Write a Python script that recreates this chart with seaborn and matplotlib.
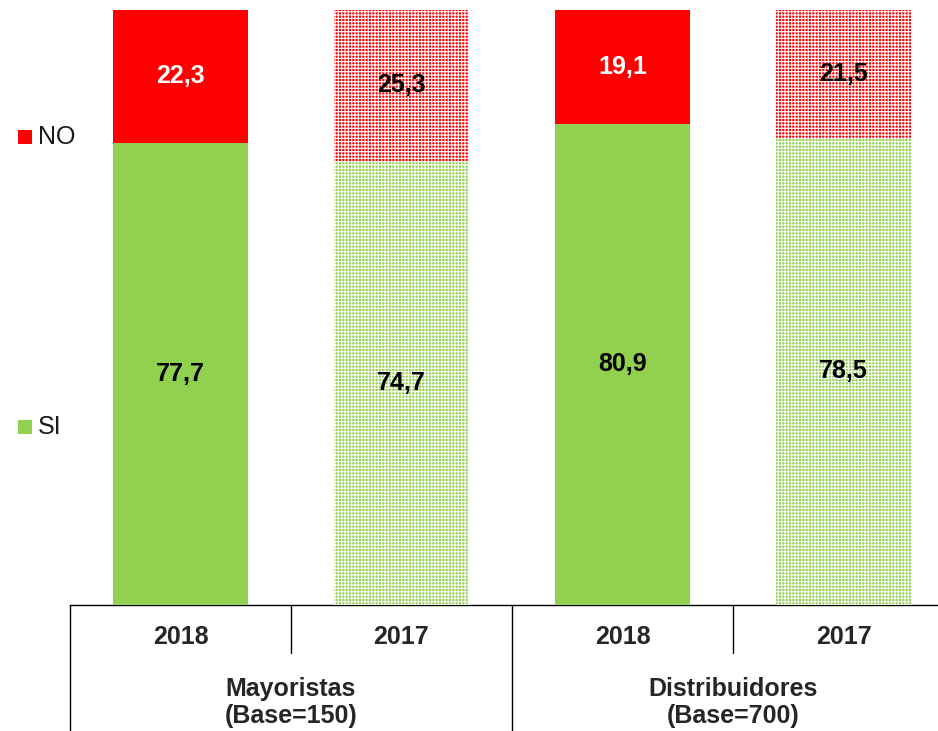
import matplotlib
matplotlib.use("Agg")
import matplotlib.pyplot as plt
import seaborn as sns
import pandas as pd
from matplotlib.patches import Rectangle
from matplotlib.lines import Line2D

groups = ["Mayoristas\n(Base=150)", "Distribuidores\n(Base=700)"]
years = ["2018", "2017", "2018", "2017"]
bar_ids = ["M2018", "M2017", "D2018", "D2017"]
si_values = [77.7, 74.7, 80.9, 78.5]
no_values = [22.3, 25.3, 19.1, 21.5]
hatched = [False, True, False, True]

GREEN = "#92D050"
RED = "#FF0000"

sns.set_theme(style="white")
plt.rcParams["font.family"] = ["Liberation Sans", "DejaVu Sans"]
plt.rcParams["hatch.linewidth"] = 0.8

df = pd.DataFrame({"bar": bar_ids, "SI": si_values, "NO": no_values})
df["total"] = df["SI"] + df["NO"]

fig = plt.figure(figsize=(9.38, 7.31), dpi=100)
ax = fig.add_axes([70 / 938, 126 / 731, 884 / 938, 595 / 731])

sns.barplot(data=df, x="bar", y="total", order=bar_ids, color=RED, width=0.61,
            saturation=1, ax=ax, zorder=2)
sns.barplot(data=df, x="bar", y="SI", order=bar_ids, color=GREEN, width=0.61,
            saturation=1, ax=ax, zorder=3)

n = len(bar_ids)
for i, p in enumerate(ax.patches):
    p.set_linewidth(0)
    if hatched[i % n]:
        p.set_hatch("+++++")
        p.set_edgecolor("white")
        p.set_linewidth(0)

ax.set_xlim(-0.5, n - 0.5)
ax.set_ylim(0, 100)
ax.set_xlabel("")
ax.set_ylabel("")
ax.set_xticks([])
ax.set_yticks([])
for s in ["top", "right", "left"]:
    ax.spines[s].set_visible(False)
ax.spines["bottom"].set_color("black")
ax.spines["bottom"].set_linewidth(1.0)

FS = 18
# value labels
for i in range(n):
    ax.text(i, si_values[i] / 2, f"{si_values[i]:.1f}".replace(".", ","),
            ha="center", va="center", fontsize=FS, fontweight="bold", color="black", zorder=5)
    ax.text(i, si_values[i] + no_values[i] / 2, f"{no_values[i]:.1f}".replace(".", ","),
            ha="center", va="center", fontsize=FS, fontweight="bold",
            color="black" if hatched[i] else "white", zorder=5)

# category axis table (below)
trans = ax.get_xaxis_transform()
for xb, depth in [(-0.5, -0.22), (0.5, -0.081), (1.5, -0.22), (2.5, -0.081), (3.5, -0.22)]:
    ax.add_line(Line2D([xb, xb], [0, depth], transform=trans, color="black",
                       linewidth=1.0, clip_on=False))
for i in range(n):
    ax.text(i, -0.054, years[i], transform=trans, ha="center", va="center",
            fontsize=FS, fontweight="bold")
for g, label in enumerate(groups):
    ax.text(0.5 + 2 * g, -0.164, label, transform=trans, ha="center", va="center",
            fontsize=FS, fontweight="bold", linespacing=1.2)

# legend
for label, color, yc in [("NO", RED, 137), ("SI", GREEN, 427)]:
    fig.patches.append(Rectangle((18 / 938, 1 - (yc + 7) / 731), 14 / 938, 14 / 731,
                                 transform=fig.transFigure, facecolor=color,
                                 edgecolor="none"))
    fig.text(38 / 938, 1 - yc / 731, label, fontsize=FS, va="center", ha="left",
             color="#1a1a1a")

fig.savefig("out.png", dpi=100)
